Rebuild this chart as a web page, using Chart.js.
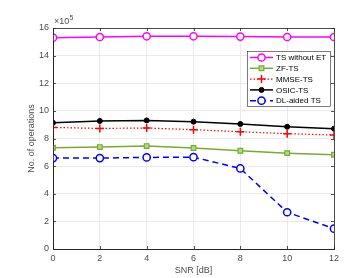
<!DOCTYPE html>
<html>
<head>
<meta charset="utf-8">
<script src="https://cdn.jsdelivr.net/npm/chart.js@4/dist/chart.umd.min.js"></script>
<style>
  html, body { margin: 0; padding: 0; background: #fff; }
  #wrap { width: 362px; height: 278px; }
</style>
</head>
<body>
<div id="wrap"><canvas id="chart" width="362" height="278"></canvas></div>
<script>
// SNR values (x axis) and operation counts in units of 1e5
const snr = [0, 2, 4, 6, 8, 10, 12];
const tsWithoutEt = [15.30, 15.35, 15.40, 15.40, 15.38, 15.35, 15.35];
const zfTs = [7.33, 7.38, 7.45, 7.31, 7.11, 6.94, 6.82];
const mmseTs = [8.80, 8.73, 8.76, 8.64, 8.49, 8.35, 8.25];
const osicTs = [9.14, 9.27, 9.31, 9.22, 9.05, 8.85, 8.71];
const dlAidedTs = [6.58, 6.58, 6.63, 6.65, 5.83, 2.66, 1.47];
const seriesNames = ['TS without ET', 'ZF-TS', 'MMSE-TS', 'OSIC-TS', 'DL-aided TS'];

const FONT = 'Liberation Sans, Arial, sans-serif';
const TICK_COLOR = '#4d4d4d';

function pts(values) {
    return snr.map((x, i) => ({ x: x, y: values[i] }));
}

const datasets = [
    {
        label: seriesNames[0], data: pts(tsWithoutEt),
        borderColor: '#ff00ff', backgroundColor: '#ffffff', borderWidth: 1.5,
        pointStyle: 'circle', pointRadius: 3.6, pointBorderWidth: 1.5
    },
    {
        label: seriesNames[1], data: pts(zfTs),
        borderColor: '#77ac30', backgroundColor: '#b7d88a', borderWidth: 1.5,
        pointStyle: 'rect', pointRadius: 3.3, pointBorderWidth: 1.2
    },
    {
        label: seriesNames[2], data: pts(mmseTs),
        borderColor: '#ff0000', backgroundColor: '#ff0000', borderWidth: 1.2,
        borderDash: [1.5, 2],
        pointStyle: 'cross', pointRadius: 4, pointBorderWidth: 1.5
    },
    {
        label: seriesNames[3], data: pts(osicTs),
        borderColor: '#000000', backgroundColor: '#000000', borderWidth: 1.5,
        pointStyle: 'circle', pointRadius: 2.5, pointBorderWidth: 1
    },
    {
        label: seriesNames[4], data: pts(dlAidedTs),
        borderColor: '#0000ff', backgroundColor: '#ffffff', borderWidth: 1.5,
        borderDash: [6, 4],
        pointStyle: 'circle', pointRadius: 3.6, pointBorderWidth: 1.5
    }
];

// 坐标框、刻度线、指数标记、轴标题和图例
const decorations = {
    id: 'decorations',
    afterDatasetsDraw(chart) {
        const ctx = chart.ctx;
        const a = chart.chartArea;
        const xs = chart.scales.x;
        const ys = chart.scales.y;
        ctx.save();
        // box around the plot area
        ctx.strokeStyle = '#262626';
        ctx.lineWidth = 0.8;
        ctx.strokeRect(a.left + 0.5, a.top + 0.5, a.right - a.left, a.bottom - a.top);

        // inward tick marks
        ctx.beginPath();
        xs.ticks.forEach(t => {
            const px = Math.round(xs.getPixelForValue(t.value)) + 0.5;
            ctx.moveTo(px, a.bottom); ctx.lineTo(px, a.bottom - 3);
            ctx.moveTo(px, a.top); ctx.lineTo(px, a.top + 3);
        });
        ys.ticks.forEach(t => {
            const py = Math.round(ys.getPixelForValue(t.value)) + 0.5;
            ctx.moveTo(a.left, py); ctx.lineTo(a.left + 3, py);
            ctx.moveTo(a.right, py); ctx.lineTo(a.right - 3, py);
        });
        ctx.stroke();

        ctx.fillStyle = TICK_COLOR;
        ctx.font = '9px ' + FONT;
        ctx.textAlign = 'left';
        ctx.textBaseline = 'middle';
        ctx.fillText('\u00d710', a.left + 1, a.top - 6);
        ctx.font = '7px ' + FONT;
        ctx.fillText('5', a.left + 16.5, a.top - 9.5);

        ctx.font = '9px ' + FONT;
        ctx.textAlign = 'center';
        ctx.fillText('SNR [dB]', (a.left + a.right) / 2, 271);
        ctx.save();
        ctx.translate(32, (a.top + a.bottom) / 2);
        ctx.rotate(-Math.PI / 2);
        ctx.fillText('No. of operations', 0, 0);
        ctx.restore();

        // legend
        const lx = 247, ly = 51, lw = 83, lh = 55;
        ctx.fillStyle = '#ffffff';
        ctx.fillRect(lx, ly, lw, lh);
        ctx.strokeStyle = '#262626';
        ctx.lineWidth = 0.6;
        ctx.strokeRect(lx + 0.5, ly + 0.5, lw, lh);
        const rowH = 10.8;
        chart.data.datasets.forEach((ds, i) => {
            const y = ly + 6.5 + i * rowH;
            ctx.strokeStyle = ds.borderColor;
            ctx.lineWidth = ds.borderWidth;
            ctx.setLineDash(ds.borderDash || []);
            ctx.beginPath();
            ctx.moveTo(lx + 3, y);
            ctx.lineTo(lx + 26, y);
            ctx.stroke();
            ctx.setLineDash([]);
            ctx.fillStyle = ds.backgroundColor;
            ctx.strokeStyle = ds.borderColor;
            ctx.lineWidth = ds.pointBorderWidth;
            Chart.helpers.drawPoint(ctx, {
                pointStyle: ds.pointStyle,
                radius: ds.pointRadius,
                rotation: 0,
                borderWidth: ds.pointBorderWidth
            }, lx + 14.5, y);
            ctx.fillStyle = '#000000';
            ctx.font = '8px ' + FONT;
            ctx.textAlign = 'left';
            ctx.textBaseline = 'middle';
            ctx.fillText(ds.label, lx + 29, y + 0.5);
        });
        ctx.restore();
    }
};

new Chart(document.getElementById('chart').getContext('2d'), {
    type: 'line',
    data: { datasets: datasets },
    options: {
        responsive: false,
        animation: false,
        layout: { padding: { left: 0, right: 28, top: 28, bottom: 0 } },
        plugins: {
            legend: { display: false },
            tooltip: { enabled: false }
        },
        scales: {
            x: {
                type: 'linear',
                min: 0,
                max: 12,
                ticks: {
                    stepSize: 2,
                    color: TICK_COLOR,
                    font: { family: FONT, size: 9 },
                    padding: 4,
                    maxRotation: 0
                },
                grid: { color: '#e6e6e6', lineWidth: 0.8, tickLength: 0 },
                border: { color: '#262626' },
                afterFit(scale) { scale.height = 29; }
            },
            y: {
                min: 0,
                max: 16,
                ticks: {
                    stepSize: 2,
                    color: TICK_COLOR,
                    font: { family: FONT, size: 9 },
                    padding: 4
                },
                grid: { color: '#e6e6e6', lineWidth: 0.8, tickLength: 0 },
                border: { color: '#262626' },
                afterFit(scale) { scale.width = 53; }
            }
        }
    },
    plugins: [decorations]
});
</script>
</body>
</html>
